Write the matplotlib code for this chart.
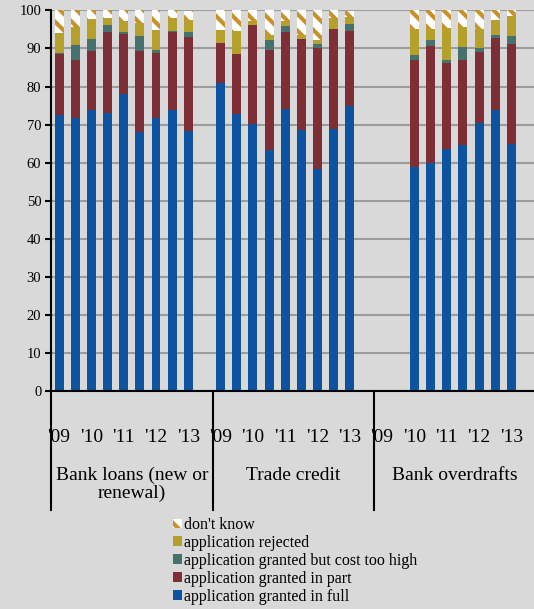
import numpy as np
import matplotlib
matplotlib.use("Agg")
import matplotlib.pyplot as plt
import matplotlib.transforms as mtransforms

plt.rcParams['font.family'] = ['Liberation Serif', 'DejaVu Serif']
plt.rcParams['hatch.linewidth'] = 3.0

BG = '#d9d9d9'

groups = ['Bank loans (new or\nrenewal)', 'Trade credit', 'Bank overdrafts']
years = ["'09", "'10", "'11", "'12", "'13"]
series = ['application granted in full', 'application granted in part',
          'application granted but cost too high', 'application rejected',
          "don't know"]
colors = ['#0d53a0', '#7e2f36', '#46716c', '#b4a02a', 'white']

# 30 slots, 10 per group; None = no bar
full = [72.4, 71.7, 73.8, 73.1, 78.0, 68.1, 71.7, 73.7, 68.2, None,
        81.0, 72.7, 70.2, 63.4, 74.0, 68.7, 58.4, 68.9, 74.9, None,
        None, None, 58.8, 60.0, 63.7, 64.6, 70.3, 73.7, 64.8, None]
part = [16.1, 15.3, 15.6, 21.3, 15.7, 21.2, 17.0, 20.7, 24.8, None,
        10.5, 15.9, 25.9, 26.3, 20.3, 23.9, 31.6, 26.1, 19.7, None,
        None, None, 28.2, 30.7, 22.6, 22.4, 18.7, 19.1, 26.5, None]
cost = [0.3, 4.0, 3.2, 1.8, 0.6, 4.0, 1.0, 0.2, 1.3, None,
        0.0, 0.0, 0.0, 2.6, 1.6, 0.0, 1.3, 0.2, 1.8, None,
        None, None, 1.3, 1.6, 0.6, 3.4, 1.0, 0.8, 2.1, None]
rejected = [5.2, 4.7, 5.2, 1.9, 2.8, 3.4, 5.2, 3.4, 3.3, None,
            3.3, 6.1, 1.2, 1.3, 1.4, 0.9, 1.0, 2.7, 1.8, None,
            None, None, 6.9, 2.8, 8.6, 5.3, 5.1, 3.8, 5.0, None]
dontknow = [6.3, 4.3, 2.3, 1.9, 2.9, 3.3, 5.1, 2.2, 2.3, None,
            5.2, 5.3, 2.7, 6.4, 2.7, 6.5, 7.7, 2.3, 1.6, None,
            None, None, 4.8, 4.9, 4.5, 4.3, 4.9, 2.6, 1.8, None]

data = [full, part, cost, rejected, dontknow]
n = len(full)
x = np.arange(n)

fig = plt.figure(figsize=(5.34, 6.09), dpi=100, facecolor=BG)
ax = fig.add_axes([51 / 534, 218 / 609, 484.6 / 534, 380.6 / 609])
ax.set_facecolor(BG)

bottom = np.zeros(n)
handles = []
for vals, name, c in zip(data, series, colors):
    v = np.array([np.nan if a is None else a for a in vals], dtype=float)
    vv = np.nan_to_num(v)
    if name == "don't know":
        b = ax.bar(x, vv, 0.55, bottom=bottom, color='white', edgecolor='#c8922a',
                   linewidth=0, hatch='\\\\', label=name, zorder=3)
    else:
        b = ax.bar(x, vv, 0.55, bottom=bottom, color=c, linewidth=0,
                   label=name, zorder=3)
    handles.append(b)
    bottom += vv

ax.set_xlim(-0.5, n - 0.5)
ax.set_ylim(0, 100)
ax.set_yticks(range(0, 101, 10))
ax.yaxis.grid(True, color='#9c9c9c', linewidth=1.5, zorder=0)
ax.set_axisbelow(True)
ax.set_xticks([])
for s in ['top', 'right']:
    ax.spines[s].set_visible(False)
for s in ['left', 'bottom']:
    ax.spines[s].set_linewidth(1.5)
    ax.spines[s].set_zorder(4)
ax.tick_params(axis='y', direction='out', length=4, width=1.5, labelsize=10.5,
               pad=3, colors='black')

trans = mtransforms.blended_transform_factory(ax.transData, ax.transAxes)
for g, gname in enumerate(groups):
    start = g * 10
    ax.plot([start - 0.5, start - 0.5], [0, -0.313], transform=trans,
            color='black', linewidth=1.5, clip_on=False, zorder=5)
    for k, yr in enumerate(years):
        ax.text(start + 2 * k, -0.121, yr, transform=trans, ha='center',
                va='center', fontsize=14)
    ax.text(start + 4.5, -0.199, gname, transform=trans, ha='center',
            va='top', fontsize=14, linespacing=1.08)

fig.legend(handles[::-1], series[::-1], loc='upper left',
           bbox_to_anchor=(173 / 534, 1 - 517 / 609),
           frameon=False, fontsize=11.5, handlelength=0.55, handleheight=0.55,
           handletextpad=0.12, labelspacing=0.12, borderpad=0, borderaxespad=0)

fig.savefig('out.png', dpi=100, facecolor=BG)
